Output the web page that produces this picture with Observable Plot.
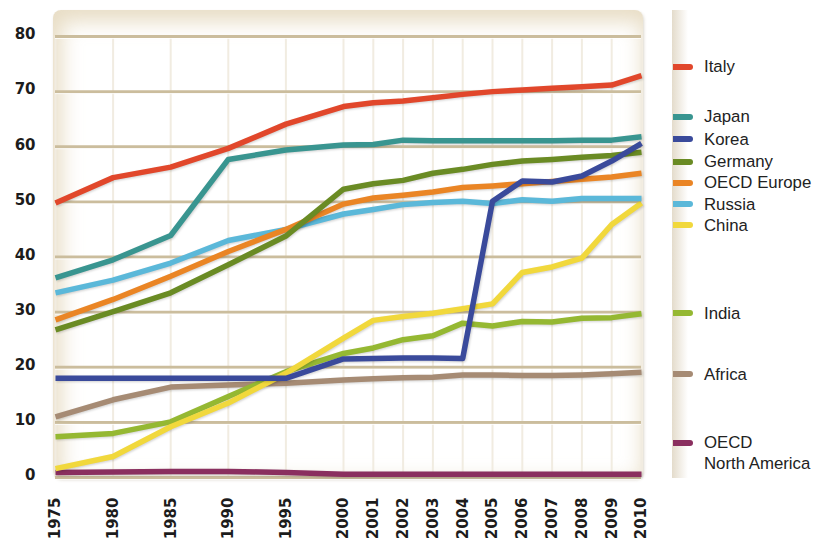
<!DOCTYPE html>
<html>
<head>
<meta charset="utf-8">
<script src="https://cdn.jsdelivr.net/npm/d3@7"></script>
<script src="https://cdn.jsdelivr.net/npm/@observablehq/plot@0.6"></script>
<style>
  html, body { margin: 0; padding: 0; background: #fff; }
  #wrap { position: relative; width: 815px; height: 541px; overflow: hidden; background: #fff; }
  #panel {
    position: absolute; left: 53px; top: 10px; width: 590px; height: 468px;
    border-radius: 8px; background: #fff;
    box-shadow: inset 4px 7px 20px 5px rgba(222, 206, 172, 0.7), 1px 2px 3px rgba(120, 100, 60, 0.25);
  }
  #legendPanel {
    position: absolute; left: 672px; top: 10px; width: 143px; height: 468px;
    background: linear-gradient(to right, rgba(205, 190, 160, 0.55), rgba(255, 255, 255, 0) 16px);
  }
  #chart { position: absolute; left: 0; top: 0; }
  #chart g[aria-label="line"] path { filter: drop-shadow(1px 1.5px 1px rgba(0,0,0,0.18)); }
  .item { position: absolute; left: 673px; font-family: "Liberation Sans", Arial, sans-serif; font-size: 16.8px; color: #222; line-height: 21px; }
  .item .sw { position: absolute; left: 0; width: 20px; height: 6px; border-radius: 0 3px 3px 0; }
  .item .lb { position: absolute; left: 31px; white-space: nowrap; }
</style>
</head>
<body>
<div id="wrap">
  <div id="panel"></div>
  <div id="legendPanel"></div>
  <div id="chart"></div>
  <div id="legend"></div>
</div>
<script>
// ---- Data ----
const years = [1975, 1980, 1985, 1990, 1995, 2000, 2001, 2002, 2003, 2004, 2005, 2006, 2007, 2008, 2009, 2010];
const yTicks = [0, 10, 20, 30, 40, 50, 60, 70, 80];

const italy      = [49.8, 54.4, 56.3, 59.7, 64.1, 67.3, 68.0, 68.3, 68.9, 69.5, 70.0, 70.3, 70.6, 70.9, 71.2, 72.9];
const japan      = [36.2, 39.5, 43.9, 57.7, 59.4, 60.3, 60.4, 61.2, 61.1, 61.1, 61.1, 61.1, 61.1, 61.2, 61.2, 61.8];
const korea      = [18.0, 18.0, 18.0, 18.0, 18.0, 21.5, 21.6, 21.7, 21.7, 21.6, 50.1, 53.8, 53.6, 54.7, 57.4, 60.6];
const germany    = [26.8, 30.1, 33.5, 38.6, 43.8, 52.3, 53.3, 53.9, 55.2, 55.9, 56.8, 57.4, 57.7, 58.1, 58.4, 59.0];
const oecdEurope = [28.6, 32.3, 36.5, 41.0, 45.0, 49.6, 50.7, 51.2, 51.8, 52.6, 52.9, 53.3, 53.7, 54.1, 54.5, 55.2];
const russia     = [33.5, 35.8, 38.9, 43.0, 45.0, 47.8, 48.6, 49.5, 49.9, 50.1, 49.7, 50.4, 50.1, 50.6, 50.6, 50.6];
const china      = [1.6, 3.8, 9.2, 13.5, 18.9, 25.3, 28.5, 29.2, 29.8, 30.6, 31.5, 37.2, 38.2, 39.8, 45.9, 49.8];
const india      = [7.4, 8.0, 10.1, 14.7, 19.2, 22.5, 23.5, 25.0, 25.7, 28.0, 27.5, 28.3, 28.2, 28.9, 29.0, 29.7];
const africa     = [11.0, 14.1, 16.4, 16.8, 17.1, 17.7, 17.9, 18.1, 18.2, 18.6, 18.6, 18.5, 18.5, 18.6, 18.8, 19.1];
const oecdNA     = [0.9, 1.0, 1.1, 1.1, 0.9, 0.6, 0.6, 0.6, 0.6, 0.6, 0.6, 0.6, 0.6, 0.6, 0.6, 0.6];

const legendNames = ["Italy", "Japan", "Korea", "Germany", "OECD Europe", "Russia", "China", "India", "Africa", "OECD North America"];
const legendColors = ["#e1472b", "#399590", "#3a4a9b", "#6a8b24", "#ea8525", "#5bb8d9", "#f1d83c", "#95b832", "#a68b74", "#8a2f5f"];

// drawing order (bottom to top)
const series = [
  ["OECD North America", oecdNA],
  ["Africa", africa],
  ["India", india],
  ["China", china],
  ["Russia", russia],
  ["OECD Europe", oecdEurope],
  ["Germany", germany],
  ["Japan", japan],
  ["Korea", korea],
  ["Italy", italy]
];

// ---- Layout ----
const W = 815, H = 541;
const mL = 55, mR = 174, mT = 36, mB = 64;
const left = mL, right = W - mR;
const mid = left + (right - left) * (288 / 586);

const rows = series.flatMap(([name, vals]) => years.map((yr, i) => ({name, year: yr, value: vals[i]})));

const plot = Plot.plot({
  width: W,
  height: H,
  marginLeft: mL,
  marginRight: mR,
  marginTop: mT,
  marginBottom: mB,
  style: {background: "transparent", fontFamily: "DejaVu Sans, sans-serif", color: "#1c1c1c"},
  x: {type: "linear", domain: [1975, 2000, 2010], range: [left, mid, right], label: null},
  y: {domain: [0, 80], label: null},
  color: {domain: legendNames, range: legendColors},
  marks: [
    Plot.ruleX(years, {stroke: "#f1ece1", strokeWidth: 2}),
    Plot.ruleY(yTicks, {stroke: "#cbbd9d", strokeWidth: 3}),
    Plot.ruleY(yTicks, {stroke: "#ffffff", strokeWidth: 1, dy: 2, strokeOpacity: 0.8}),
    Plot.line(rows, {x: "year", y: "value", z: "name", stroke: "name", strokeWidth: 5.5, strokeLinecap: "butt", strokeLinejoin: "round"}),
    Plot.axisY({ticks: yTicks, label: null, tickSize: 0, tickPadding: 20, fontSize: 15, fontWeight: "bold", dy: -2}),
    Plot.axisX({ticks: years, label: null, tickFormat: d => String(d), tickRotate: -90, tickSize: 0, tickPadding: 20, fontSize: 15, fontWeight: "bold"})
  ]
});
document.getElementById("chart").appendChild(plot);

// ---- Legend (HTML, right side) ----
const legendCenters = [66.7, 116.7, 139.3, 161.5, 182.7, 204, 225.3, 313.3, 374, 442.7];
const legend = document.getElementById("legend");
legendNames.forEach((name, i) => {
  const item = document.createElement("div");
  item.className = "item";
  item.style.top = (legendCenters[i] - 10.5) + "px";
  const sw = document.createElement("div");
  sw.className = "sw";
  sw.style.background = legendColors[i];
  sw.style.top = "7.5px";
  const lb = document.createElement("div");
  lb.className = "lb";
  lb.innerHTML = name === "OECD North America" ? "OECD<br>North America" : name;
  item.appendChild(sw);
  item.appendChild(lb);
  legend.appendChild(item);
});
</script>
</body>
</html>
